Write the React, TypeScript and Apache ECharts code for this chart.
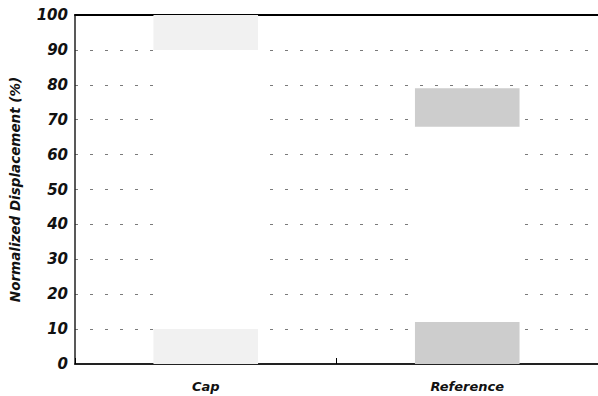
import React, { useEffect, useRef } from "react";
import * as echarts from "echarts";

const categories = ["Cap", "Reference"];
const lowerBand = [10, 12];
const middleGap = [80, 56];
const upperBand = [10, 11];
const yTicks = [0, 10, 20, 30, 40, 50, 60, 70, 80, 90, 100];

const stippleColors = ["#f1f1f1", "#cdcdcd"];

export default function App() {
  const ref = useRef<HTMLDivElement>(null);
  useEffect(() => {
    if (!ref.current) return;
    const chart = echarts.init(ref.current, null, { renderer: "svg" });
    const font = "'DejaVu Sans', Verdana, sans-serif";
    chart.setOption({
      animation: false,
      backgroundColor: "#ffffff",
      grid: {
        left: 75,
        top: 15,
        width: 526,
        height: 349,
        show: false,
      },
      xAxis: [
        {
          type: "category",
          data: categories,
          axisLine: { show: true, lineStyle: { color: "#222", width: 2 } },
          axisTick: { show: true, inside: true, length: 6, lineStyle: { color: "#000" } },
          axisLabel: {
            margin: 16,
            fontFamily: font,
            fontWeight: "bold",
            fontStyle: "italic",
            fontSize: 13,
            color: "#111",
          },
          splitLine: { show: false },
        },
        {
          type: "category",
          position: "top",
          data: categories,
          axisLine: { show: true, lineStyle: { color: "#000", width: 2 } },
          axisTick: { show: false },
          axisLabel: { show: false },
          splitLine: { show: false },
        },
      ],
      yAxis: {
        type: "value",
        min: yTicks[0],
        max: yTicks[yTicks.length - 1],
        interval: 10,
        name: "Normalized Displacement (%)",
        nameLocation: "middle",
        nameGap: 53,
        nameTextStyle: {
          fontFamily: font,
          fontWeight: "bold",
          fontStyle: "italic",
          fontSize: 13.5,
          color: "#111",
        },
        axisLine: { show: true, lineStyle: { color: "#222", width: 1.5 } },
        axisTick: { show: false },
        axisLabel: {
          margin: 7,
          fontFamily: font,
          fontWeight: "bold",
          fontStyle: "italic",
          fontSize: 15,
          color: "#111",
        },
        splitLine: {
          show: true,
          showMaxLine: false,
          showMinLine: false,
          lineStyle: { color: "#7a7a7a", width: 1, type: [3, 12] },
        },
      },
      series: [
        {
          name: "Lower",
          type: "bar",
          stack: "d",
          barWidth: "40%",
          data: lowerBand.map((v, i) => ({ value: v, itemStyle: { color: stippleColors[i] } })),
        },
        {
          name: "Middle",
          type: "bar",
          stack: "d",
          barWidth: "40%",
          itemStyle: { color: "#ffffff" },
          data: middleGap,
        },
        {
          name: "Upper",
          type: "bar",
          stack: "d",
          barWidth: "40%",
          data: upperBand.map((v, i) => ({ value: v, itemStyle: { color: stippleColors[i] } })),
        },
      ],
    });
    return () => chart.dispose();
  }, []);
  return <div ref={ref} style={{ width: 598, height: 396, position: "absolute", left: 0, top: 0 }} />;
}
